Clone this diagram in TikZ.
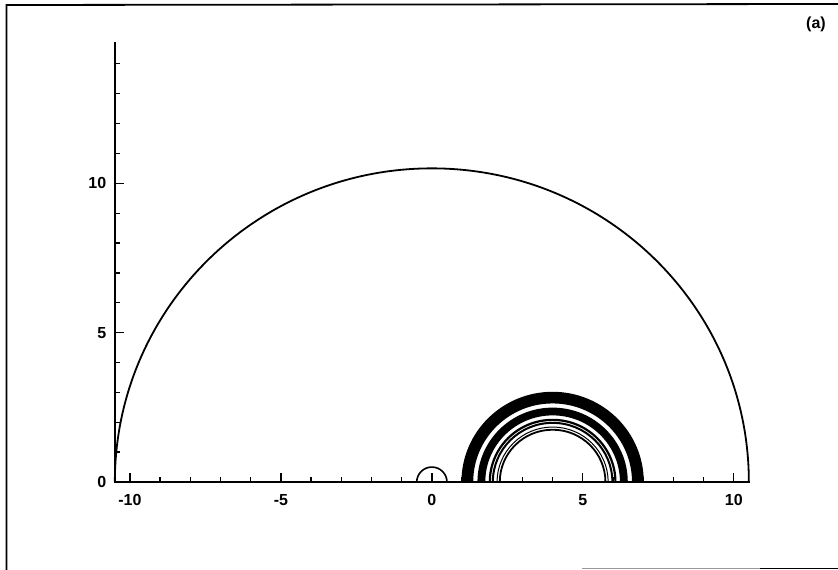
\documentclass[tikz,border=0pt]{standalone}
\usepackage{fontspec}
\setmainfont{Liberation Sans}
\tikzset{
  axisline/.style={line width=2.4pt, line cap=rect},
  tickline/.style={line width=1.3pt},
  curve/.style={line width=1.8pt},
  lab/.style={font=\bfseries\fontsize{16}{17}\selectfont, inner sep=0pt},
}
\begin{document}
\begin{tikzpicture}[x=1pt,y=1pt]
\useasboundingbox (0,0) rectangle (838,570);
% page frame (scanned)
\draw[line width=1.8pt] (6.5,0) -- (6.5,565) -- (838,566);
\draw[line width=1.4pt, black!40] (582,1.5) -- (760,1.5);
\draw[line width=1.4pt] (760,1.5) -- (838,1.5);
\node[lab] (panel) at (816,546) {(a)};
\begin{scope}[shift={(431.85,88)}, x=30.19pt, y=29.87pt]
  % axes
  \draw[axisline] (-10.5,14.7) -- (-10.5,0) -- (10.5,0);
  \foreach \i in {-10,...,10} \draw[tickline] (\i,0) -- ++(0,4.5pt);
  \foreach \i in {-10,-5,0,5,10} {
    \draw[tickline] (\i,0) -- ++(0,8.5pt);
    \node[lab] (xl\i) at (\i,0) [yshift=-18pt] {\i};
  }
  \foreach \j in {1,...,14} \draw[tickline] (-10.5,\j) -- ++(5pt,0);
  \foreach \j in {0,5,10} {
    \draw[tickline] (-10.5,\j) -- ++(9pt,0);
    \node[lab, anchor=east] (yl\j) at (-10.5,\j) [xshift=-8.5pt] {\j};
  }
  % outer semicircle
  \draw[curve] (10.5,0) arc[start angle=0, end angle=180, radius=10.5];
  % small semicircle at origin
  \draw[line width=1.6pt] (0.5,0) arc[start angle=0, end angle=180, radius=0.5];
  % concentric rings about (4,0)
  \fill (7.02,0) arc[start angle=0, end angle=180, radius=3.02]
        -- (1.37,0) arc[start angle=180, end angle=0, radius=2.63] -- cycle;
  \fill (6.49,0) arc[start angle=0, end angle=180, radius=2.49]
        -- (1.77,0) arc[start angle=180, end angle=0, radius=2.23] -- cycle;
  \foreach \r/\w in {2.08/2.2pt, 1.98/2pt, 1.84/1pt, 1.75/1.8pt}
    \draw[line width=\w] (4+\r,0) arc[start angle=0, end angle=180, radius=\r];
\end{scope}
\end{tikzpicture}
\end{document}
